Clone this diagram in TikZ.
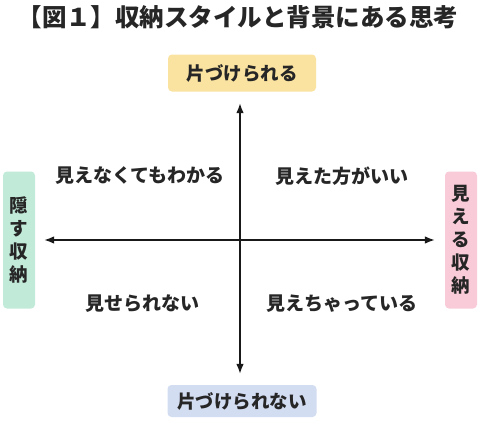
\documentclass[tikz,border=0pt]{standalone}
\usepackage{fontspec}
\setmainfont{Noto Sans CJK JP}
\usetikzlibrary{arrows.meta}
\definecolor{axisyellow}{HTML}{FAE3A0}
\definecolor{axisblue}{HTML}{D3DDF2}
\definecolor{axisgreen}{HTML}{C2EAD9}
\definecolor{axispink}{HTML}{F9CBD8}

\begin{document}
\begin{tikzpicture}[
  x=1pt,y=-1pt,
  >=Latex,
  title/.style={font=\bfseries\fontsize{24.5}{28}\selectfont,text=black!85},
  axisbox/.style={
    rounded corners=4pt,
    align=center,
    inner sep=0pt,
    font=\bfseries\fontsize{18.5}{23}\selectfont,
    text=black!85
  },
  quadrant/.style={font=\bfseries\fontsize{19}{22}\selectfont,text=black!85},
  axis/.style={<->,line width=1.6pt,draw=black!90}
]
  \useasboundingbox[fill=white] (0,0) rectangle (480,439);

  % Title.
  \node[title] (heading) at (238,17) {【図１】収納スタイルと背景にある思考};

  % Axis end labels.
  \node[axisbox,fill=axisyellow,minimum width=148pt,minimum height=37pt] (tidy) at (242,73) {片づけられる};
  \node[axisbox,fill=axisblue,minimum width=149pt,minimum height=32pt] (untidy) at (242,401) {片づけられない};
  \node[axisbox,fill=axisgreen,minimum width=32pt,minimum height=137pt] (hidden) at (19,240) {隠\\す\\収\\納};
  \node[axisbox,fill=axispink,minimum width=32pt,minimum height=137pt] (visible) at (461,240) {見\\え\\る\\収\\納};

  % Axes.
  \coordinate (ytop) at (240,103);
  \coordinate (ybottom) at (240,374);
  \coordinate (xleft) at (44,240);
  \coordinate (xright) at (435,240);
  \draw[axis] (ybottom) -- (ytop);
  \draw[axis] (xleft) -- (xright);

  % Quadrant texts.
  \node[quadrant] (upperleft) at (140,176) {見えなくてもわかる};
  \node[quadrant] (upperright) at (342,176) {見えた方がいい};
  \node[quadrant] (lowerleft) at (142,304) {見せられない};
  \node[quadrant] (lowerright) at (342,304) {見えちゃっている};
\end{tikzpicture}
\end{document}
